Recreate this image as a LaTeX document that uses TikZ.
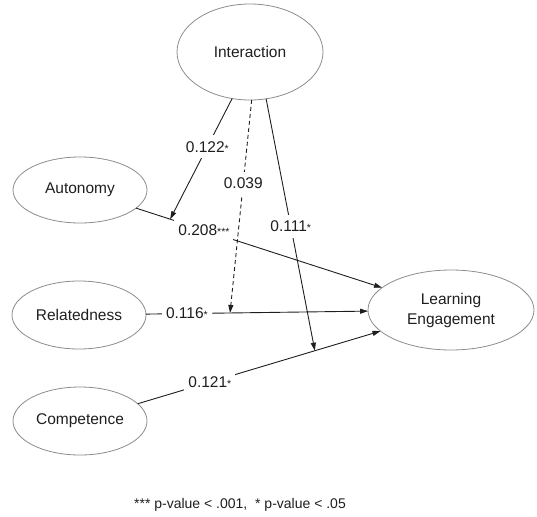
\documentclass[tikz,border=0pt]{standalone}
\usepackage{fontspec}
\setmainfont{Liberation Sans}
\usetikzlibrary{arrows.meta,calc,shapes.geometric}
\definecolor{ink}{HTML}{1E1E1E}
\definecolor{rim}{HTML}{8C8C8C}
\newcommand{\sig}[1]{{\fontsize{10.5}{10.5}\selectfont #1}}
\begin{document}
\begin{tikzpicture}[x=1pt,y=-1pt,
  var/.style={ellipse,draw=rim,line width=0.8pt,text=ink,inner sep=0pt,outer sep=0pt,
    font=\fontsize{15.5}{20}\selectfont,align=center},
  link/.style={draw=ink,line width=0.9pt},
  arr/.style={link,-{Triangle[length=8pt,width=5pt]}},
  dashlink/.style={arr,dash pattern=on 4pt off 3pt},
  coef/.style={fill=white,text=ink,inner xsep=4pt,inner ysep=6pt,
    font=\fontsize{15.5}{18}\selectfont},
  note/.style={text=ink,font=\fontsize{14}{16}\selectfont}]
\useasboundingbox (0,0) rectangle (537,516);
% latent variables
\node[var,minimum width=146pt,minimum height=96pt] (int) at (250,52) {Interaction};
\node[var,minimum width=134pt,minimum height=66pt] (aut) at (80,190) {Autonomy};
\node[var,minimum width=134pt,minimum height=68pt] (rel) at (79,315) {Relatedness};
\node[var,minimum width=134pt,minimum height=68pt] (com) at (80,421) {Competence};
\node[var,minimum width=166pt,minimum height=80pt] (le) at (451,310) {Learning\\Engagement};
% points where the moderation arrows meet the direct paths
\coordinate (m1) at ($(aut.center)!0.243!(le.center)$);
\coordinate (m2) at ($(rel.center)!0.406!(le.center)$);
\coordinate (m3) at ($(com.center)!0.633!(le.center)$);
% direct paths
\draw[arr] (aut) -- (le);
\draw[arr] (rel) -- (le);
\draw[arr] (com) -- (le);
% moderation paths
\draw[arr] (int.249) -- (m1);
\draw[dashlink] (int.272) -- (m2);
\draw[arr] (int.289) -- (m3);
% coefficients
\node[coef] (c1) at ($(aut.center)!0.334!(le.center)$) {0.208\sig{***}};
\node[coef] (c2) at ($(rel.center)!0.29!(le.center)$) {0.116\sig{*}};
\node[coef] (c3) at ($(com.center)!0.35!(le.center)$) {0.121\sig{*}};
\node[coef] (c4) at ($(int.249)!0.40!(m1)$) {0.122\sig{*}};
\node[coef] (c5) at ($(int.272)!0.39!(m2)$) {0.039};
\node[coef] (c6) at ($(int.289)!0.506!(m3)$) {0.111\sig{*}};
% footnote
\node[note] (fn) at (240,505) {*** p-value < .001,\ \ * p-value < .05};
\end{tikzpicture}
\end{document}
